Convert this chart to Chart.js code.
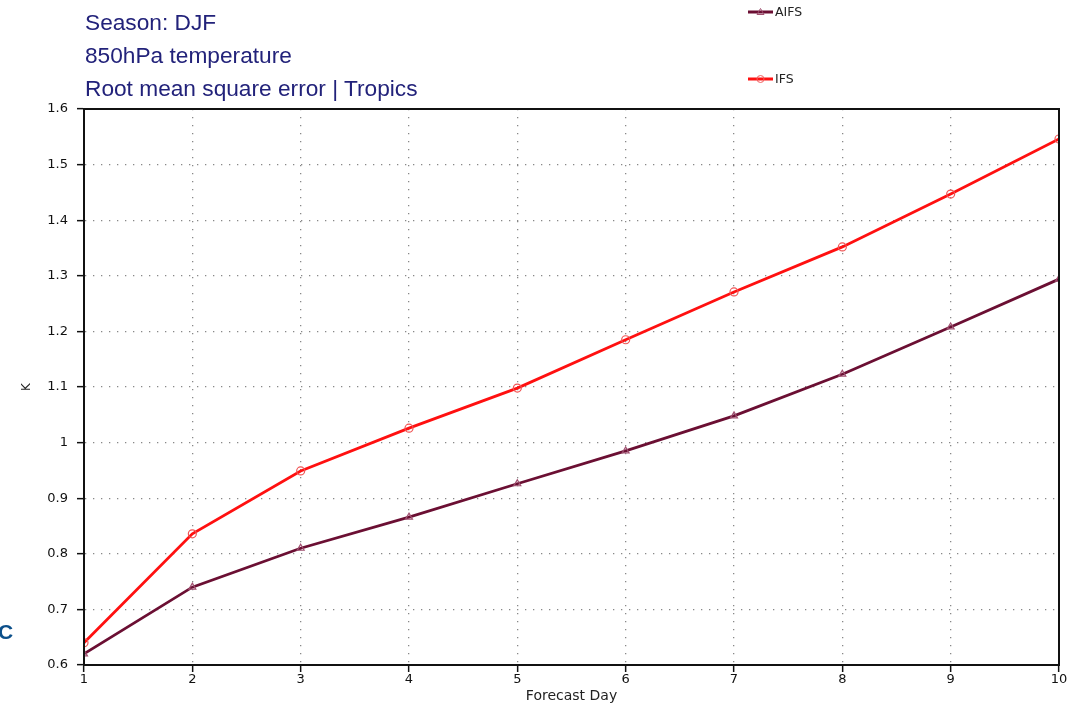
<!DOCTYPE html>
<html lang="en">
<head>
  <meta charset="UTF-8">
  <title>850hPa temperature RMSE - Tropics</title>
  <style>
    body {
      margin: 0;
      background: #fff;
      font-family: 'Liberation Sans', Arial, sans-serif;
    }
    .wrap {
      position: relative;
      width: 1073px;
      height: 705px;
    }
    canvas {
      position: absolute;
      left: 0;
      top: 0;
    }
    .title {
      position: absolute;
      left: 85px;
      color: #22227a;
      font-size: 22.7px;
      line-height: 24px;
    }
    .legend {
      position: absolute;
      left: 748px;
      font-family: 'DejaVu Sans', sans-serif;
      font-size: 12.5px;
      color: #222;
      display: flex;
      align-items: center;
    }
    .legend svg {
      margin-right: 2px;
    }
    .corner {
      position: absolute;
      left: -2px;
      top: 620px;
      color: #0b4f8a;
      font-weight: bold;
      font-size: 21px;
    }
  </style>
</head>
<body>
  <div class="wrap">
    <canvas id="chart" width="1073" height="705"></canvas>
    <div class="title" style="top:10px">Season: DJF</div>
    <div class="title" style="top:43px">850hPa temperature</div>
    <div class="title" style="top:76px">Root mean square error | Tropics</div>
    <div class="legend" style="top:4px">
      <svg width="25" height="10"><line x1="0" y1="5" x2="25" y2="5" stroke="#6b0f33" stroke-width="3"/><path d="M12.5 1.5 L16 7.5 L9 7.5 Z" fill="none" stroke="#a05070" stroke-width="1"/></svg>AIFS
    </div>
    <div class="legend" style="top:71px">
      <svg width="25" height="10"><line x1="0" y1="5" x2="25" y2="5" stroke="#ff1010" stroke-width="3"/><circle cx="12.5" cy="5" r="3.5" fill="none" stroke="#f06060" stroke-width="1"/></svg>IFS
    </div>
    <div class="corner">C</div>
  </div>

  <script src="https://cdn.jsdelivr.net/npm/chart.js@4.4.1/dist/chart.umd.min.js"></script>
  <script>
    const days = [1, 2, 3, 4, 5, 6, 7, 8, 9, 10];
    const aifs = [0.620, 0.740, 0.810, 0.866, 0.926, 0.985, 1.048, 1.123, 1.208, 1.294];
    const ifs = [0.640, 0.836, 0.949, 1.026, 1.098, 1.185, 1.271, 1.352, 1.447, 1.546];

    // black frame round the whole plot area
    const frame = {
      id: 'frame',
      afterDraw(chart) {
        const a = chart.chartArea;
        const ctx = chart.ctx;
        ctx.save();
        ctx.strokeStyle = '#111';
        ctx.lineWidth = 2;
        ctx.strokeRect(a.left, a.top, a.right - a.left, a.bottom - a.top);
        ctx.restore();
      }
    };

    const gridOpts = {
      color: '#888',
      lineWidth: 1.3,
      tickColor: '#111',
      tickBorderDash: [],
      tickLength: 7,
      tickWidth: 1.5
    };
    const borderOpts = { display: true, color: '#111', width: 2, dash: [1.3, 6.7] };

    new Chart(document.getElementById('chart'), {
      type: 'line',
      data: {
        datasets: [
          {
            label: 'IFS',
            data: days.map((d, i) => ({ x: d, y: ifs[i] })),
            borderColor: '#ff1010',
            backgroundColor: 'rgba(0,0,0,0)',
            borderWidth: 2.8,
            pointStyle: 'circle',
            pointRadius: 4,
            pointBorderColor: '#f05555',
            pointBorderWidth: 1.2,
            tension: 0
          },
          {
            label: 'AIFS',
            data: days.map((d, i) => ({ x: d, y: aifs[i] })),
            borderColor: '#6b0f33',
            backgroundColor: 'rgba(0,0,0,0)',
            borderWidth: 2.8,
            pointStyle: 'triangle',
            pointRadius: 4,
            pointBorderColor: '#a05070',
            pointBorderWidth: 1.2,
            tension: 0
          }
        ]
      },
      options: {
        responsive: false,
        animation: false,
        layout: { padding: { left: 0, top: 109, right: 14, bottom: 0 } },
        plugins: {
          legend: { display: false },
          tooltip: { enabled: false }
        },
        scales: {
          x: {
            type: 'linear',
            min: 1,
            max: 10,
            afterFit(scale) { scale.height = 40; },
            ticks: {
              stepSize: 1,
              color: '#111',
              padding: 0,
              font: { family: 'DejaVu Sans', size: 13 }
            },
            grid: gridOpts,
            border: borderOpts,
            title: {
              display: true,
              text: 'Forecast Day',
              color: '#222',
              padding: 0,
              font: { family: 'DejaVu Sans', size: 14 }
            }
          },
          y: {
            min: 0.6,
            max: 1.6,
            afterFit(scale) { scale.width = 84; },
            ticks: {
              stepSize: 0.1,
              color: '#111',
              padding: 9,
              font: { family: 'DejaVu Sans', size: 13 },
              callback: v => String(+v.toFixed(1))
            },
            grid: gridOpts,
            border: borderOpts,
            title: {
              display: true,
              text: 'K',
              color: '#222',
              padding: { top: 20, bottom: 0 },
              font: { family: 'DejaVu Sans', size: 12 }
            }
          }
        }
      },
      plugins: [frame]
    });
  </script>
</body>
</html>
